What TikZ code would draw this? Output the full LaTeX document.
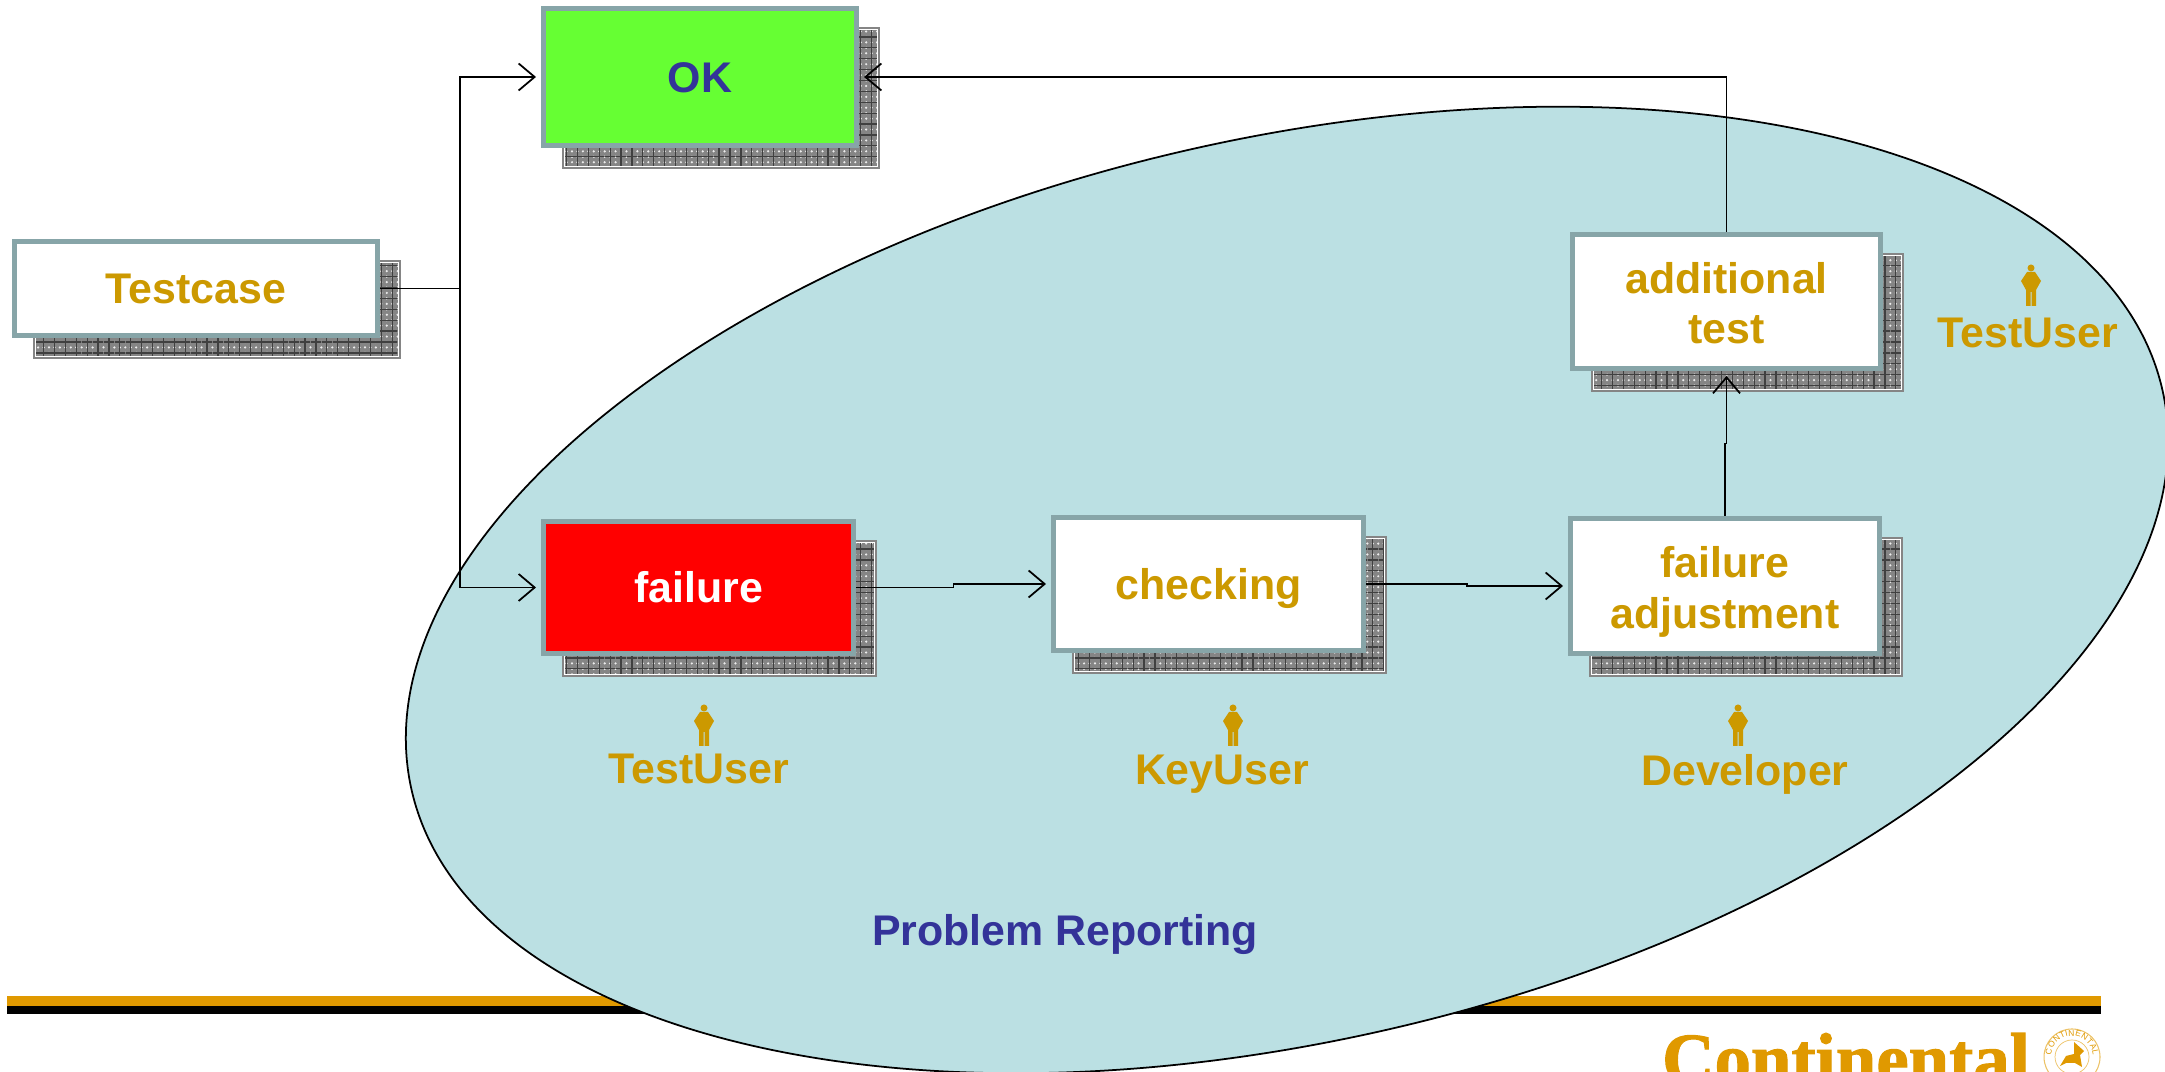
\documentclass[tikz,border=0pt]{standalone}
\usepackage{fontspec}
\setmainfont{Liberation Sans}
\newfontfamily\logofont[FakeBold=1.4]{Liberation Serif}
\usetikzlibrary{shadows,arrows.meta,patterns,patterns.meta,positioning,calc,decorations.text}
\definecolor{framegray}{HTML}{87A5A8}
\definecolor{goldtext}{HTML}{CC9900}
\definecolor{bluetext}{HTML}{333399}
\definecolor{okgreen}{HTML}{66FF33}
\definecolor{poolblue}{HTML}{BBE0E3}
\definecolor{contiorange}{HTML}{E09900}
\tikzset{
  labeltext/.style={font=\fontsize{12.2}{14.5}\selectfont\bfseries,align=center,text=goldtext},
  taskbox/.style={labeltext,draw=framegray,line width=0.05cm,fill=white,inner sep=0pt,
    general shadow={shadow xshift=0.21cm,shadow yshift=-0.21cm,fill=black!48,draw=black!48},
    general shadow={shadow xshift=0.21cm,shadow yshift=-0.21cm,pattern={Dots[distance=1.55pt,radius=0.35pt]},pattern color=white!85!gray},
    general shadow={shadow xshift=0.21cm,shadow yshift=-0.21cm,pattern={Lines[angle=0,distance=3.1pt,line width=0.35pt]},pattern color=black!75},
    general shadow={shadow xshift=0.21cm,shadow yshift=-0.21cm,pattern={Lines[angle=90,distance=3.1pt,line width=0.35pt]},pattern color=black!75},
    general shadow={shadow xshift=0.21cm,shadow yshift=-0.21cm,draw=white,line width=0.25pt}},
  oneline/.style={text height=8.8pt,text depth=0pt},
  flow/.style={black,line width=0.5pt,-{Straight Barb[length=0.16cm,width=0.27cm]},shorten >=0.05cm},
  person/.pic={
    \fill[goldtext] (0,0.18) circle (0.035);
    \fill[goldtext] (-0.04,0.14) -- (0.04,0.14) -- (0.1,0.05) -- (0.05,-0.04) -- (0.05,-0.2)
      -- (0.005,-0.2) -- (0.005,-0.06) -- (-0.005,-0.06) -- (-0.005,-0.2) -- (-0.05,-0.2)
      -- (-0.05,-0.04) -- (-0.1,0.05) -- cycle;
  }
}
\begin{document}
\begin{tikzpicture}
\useasboundingbox (0,0) rectangle (21.65,10.72);
\clip (0,0) rectangle (21.65,10.72);

\fill[contiorange] (0.07,0.66) rectangle (21.01,0.76);
\fill[black] (0.07,0.58) rectangle (21.01,0.66);

% logo at the lower right
\node[font=\logofont\fontsize{20.7}{20}\selectfont\bfseries,text=contiorange,anchor=base,inner sep=0pt] (logo) at (18.46,-0.115) {Continental};
\draw[contiorange!60,line width=0.3pt] (20.72,0.15) circle (0.28);
\draw[contiorange!60,line width=0.2pt] (20.72,0.15) circle (0.17);
\path[decorate,decoration={text along path,text align=center,raise=0.01cm,
  text={|\fontsize{2.4}{3}\selectfont\color{contiorange}|CONTINENTAL}}]
  (20.52,0.15) arc (180:0:0.2);
\fill[contiorange] (20.6,0.06) -- (20.66,0.16) -- (20.74,0.18) -- (20.74,0.3) -- (20.84,0.21)
  -- (20.8,0.17) -- (20.82,0.05) -- (20.75,0.09) -- (20.66,0.09) -- cycle;

\draw[black,line width=0.5pt,fill=poolblue,rotate around={12.9:(12.87,4.82)}] (12.87,4.82) ellipse (8.98 and 4.51);

\node[taskbox,oneline,text=bluetext,fill=okgreen,minimum width=3.13cm,minimum height=1.37cm] (ok) at (7.00,9.95) {OK};
\node[taskbox,oneline,minimum width=3.63cm,minimum height=0.94cm] (testcase) at (1.96,7.835) {Testcase};
\node[taskbox,oneline,text=white,fill=red,minimum width=3.10cm,minimum height=1.32cm] (failure) at (6.985,4.845) {failure};
\node[taskbox,oneline,minimum width=3.10cm,minimum height=1.33cm] (checking) at (12.085,4.88) {checking};
\node[taskbox,minimum width=3.09cm,minimum height=1.35cm] (adjustment) at (17.25,4.86) {\rule{0pt}{12.4pt}failure\\adjustment};
\node[taskbox,minimum width=3.08cm,minimum height=1.34cm] (additional) at (17.265,7.705) {\rule{0pt}{9.8pt}additional\\test};

\coordinate[right=0.8cm of testcase.east] (branch);
\draw[flow] (testcase.east) -- (branch) |- (ok.west);
\draw[flow] (testcase.east) -- (branch) |- (failure.west);
\draw[flow] (failure.east) -| ($(failure.east)!0.5!(checking.west)$) |- (checking.west);
\draw[flow] (checking.east) -| ($(checking.east)!0.5!(adjustment.west)$) |- (adjustment.west);
\draw[flow] (adjustment.north) |- ($(adjustment.north)!0.5!(additional.south)$) -| (additional.south);
\draw[flow] (additional.north) |- (ok.east);

\pic at (7.04,3.46) {person};
\pic at (12.33,3.46) {person};
\pic at (17.38,3.46) {person};
\pic at (20.31,7.86) {person};

\node[labeltext] (testuser) at (6.99,3.03) {TestUser};
\node[labeltext] (keyuser) at (12.22,2.975) {KeyUser};
\node[labeltext] (developer) at (17.45,2.975) {Developer};
\node[labeltext] (addtestuser) at (20.28,7.39) {TestUser};
\node[labeltext,text=bluetext] (reporting) at (10.65,1.375) {Problem Reporting};

\end{tikzpicture}
\end{document}
